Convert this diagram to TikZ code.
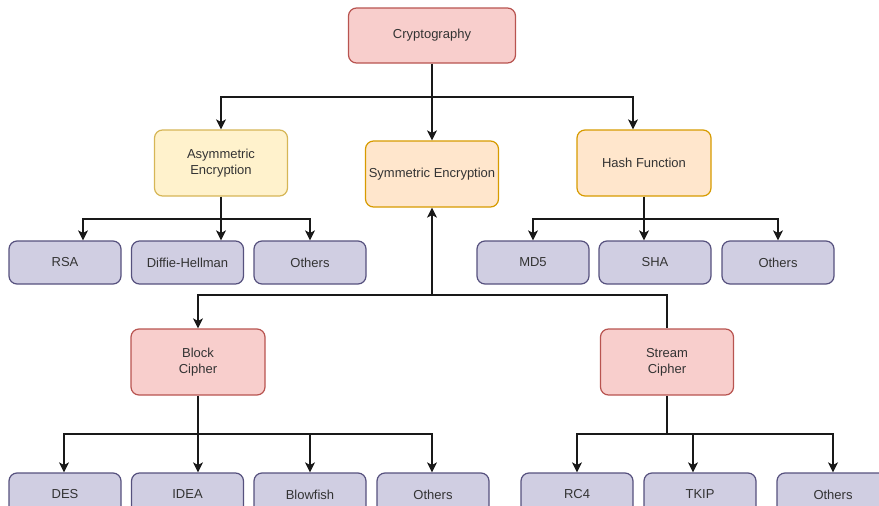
\documentclass[tikz,border=0pt]{standalone}
\usepackage{fontspec}
\setmainfont{Liberation Sans}
\usetikzlibrary{arrows.meta,calc}

\definecolor{redfill}{HTML}{F8CECC}
\definecolor{redline}{HTML}{B85450}
\definecolor{yelfill}{HTML}{FFF2CC}
\definecolor{yelline}{HTML}{D6B656}
\definecolor{orgfill}{HTML}{FFE6CC}
\definecolor{orgline}{HTML}{D79B00}
\definecolor{purfill}{HTML}{D0CEE2}
\definecolor{purline}{HTML}{56517E}
\definecolor{txt}{HTML}{333333}

\tikzset{
  box/.style={draw, rounded corners=8pt, line width=1.2pt, align=center,
    text=txt, inner sep=2pt,
    font=\fontsize{13}{16}\selectfont},
  redbox/.style={box, fill=redfill, draw=redline},
  yelbox/.style={box, fill=yelfill, draw=yelline},
  orgbox/.style={box, fill=orgfill, draw=orgline},
  leafbox/.style={box, fill=purfill, draw=purline,
    minimum width=112pt, minimum height=43pt},
  midbox/.style={minimum width=133pt, minimum height=66pt},
  link/.style={draw=black!90, line width=1.2pt},
  arr/.style={link, -{Stealth[length=10pt,width=10pt,inset=2.5pt]}},
}

\begin{document}
\begin{tikzpicture}[x=1pt,y=-1pt]
\useasboundingbox (0,0) rectangle (879,506);
\clip (0,0) rectangle (879,506);

% root
\node[redbox, minimum width=167pt, minimum height=55pt] (crypto) at (432,35.5) {Cryptography};

% second level
\node[yelbox, midbox] (asym) at (221,163) {Asymmetric\\Encryption};
\node[orgbox, midbox] (sym) at (432,174) {Symmetric Encryption};
\node[orgbox, midbox, minimum width=134pt] (hash) at (644,163) {Hash Function};

% asymmetric algorithms
\node[leafbox] (rsa) at (65,262.5) {RSA};
\node[leafbox] (dh) at (187.5,262.5) {Diffie-Hellman};
\node[leafbox] (aoth) at (310,262.5) {Others};

% hash algorithms
\node[leafbox] (md5) at (533,262.5) {MD5};
\node[leafbox] (sha) at (655,262.5) {SHA};
\node[leafbox] (hoth) at (778,262.5) {Others};

% symmetric families
\node[redbox, midbox, minimum width=134pt] (block) at (198,362) {Block\\Cipher};
\node[redbox, midbox] (stream) at (667,362) {Stream\\Cipher};

% block ciphers
\node[leafbox] (des) at (65,494.5) {DES};
\node[leafbox] (idea) at (187.5,494.5) {IDEA};
\node[leafbox] (blow) at (310,494.5) {Blowfish};
\node[leafbox] (boff) at (433,494.5) {Others};

% stream ciphers
\node[leafbox] (rc4) at (577,494.5) {RC4};
\node[leafbox] (tkip) at (700,494.5) {TKIP};
\node[leafbox] (soth) at (833,494.5) {Others};

% junction points
\coordinate (j0) at (432,97);
\coordinate (ja) at (221,219);
\coordinate (jh) at (644,219);
\coordinate (js) at (432,295);
\coordinate (jb) at (198,434);
\coordinate (jt) at (667,434);

% root to second level
\draw[link] (crypto.south) -- (j0);
\draw[arr] (j0) -| (asym.north);
\draw[arr] (j0) -- (sym.north);
\draw[arr] (j0) -| ([xshift=-11pt]hash.north);

% asymmetric branch
\draw[link] (asym.south) -- (ja);
\draw[arr] (ja) -| ([xshift=18pt]rsa.north);
\draw[arr] (ja) -| ([xshift=33.5pt]dh.north);
\draw[arr] (ja) -| (aoth.north);

% hash branch
\draw[link] (hash.south) -- (jh);
\draw[arr] (jh) -| (md5.north);
\draw[arr] (jh) -| ([xshift=-11pt]sha.north);
\draw[arr] (jh) -| (hoth.north);

% symmetric branch
\draw[arr] (js) -- (sym.south);
\draw[arr] (js) -| (block.north);
\draw[link] (js) -| (stream.north);

% block cipher branch
\draw[link] (block.south) -- (jb);
\draw[arr] (jb) -| ([xshift=-1pt]des.north);
\draw[arr] (jb) -| ([xshift=10.5pt]idea.north);
\draw[arr] (jb) -| (blow.north);
\draw[arr] (jb) -| ([xshift=-1pt]boff.north);

% stream cipher branch
\draw[link] (stream.south) -- (jt);
\draw[arr] (jt) -| (rc4.north);
\draw[arr] (jt) -| ([xshift=-7pt]tkip.north);
\draw[arr] (jt) -| (soth.north);
\end{tikzpicture}
\end{document}
